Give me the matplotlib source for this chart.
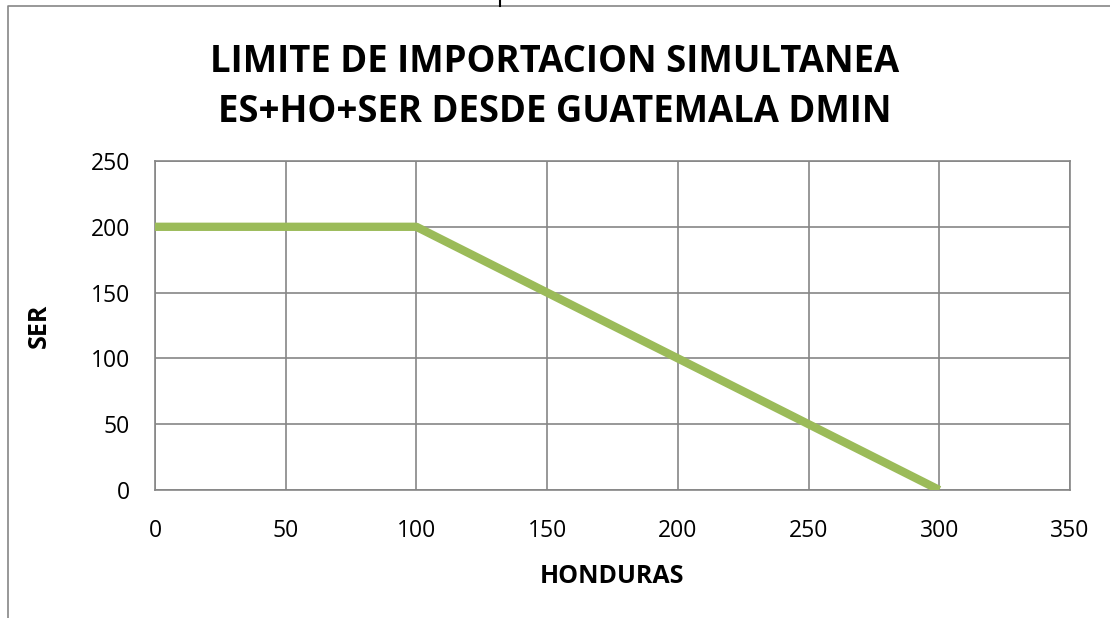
import matplotlib
matplotlib.use('Agg')
import matplotlib.pyplot as plt
from matplotlib.lines import Line2D

honduras = [0, 100, 300]
ser = [200, 200, 0]
x_ticks = [0, 50, 100, 150, 200, 250, 300, 350]
y_ticks = [0, 50, 100, 150, 200, 250]

plt.rcParams['font.family'] = ['Open Sans', 'DejaVu Sans']

W, H = 1110, 618
fig = plt.figure(figsize=(W / 100, H / 100), dpi=100)
ax = fig.add_axes([155 / W, 1 - 490 / H, (1070 - 155) / W, (490 - 161) / H])

ax.plot(honduras, ser, color='#9BBB59', linewidth=6, solid_capstyle='butt', zorder=3)

ax.set_xlim(0, 350)
ax.set_ylim(0, 250)
ax.set_xticks(x_ticks)
ax.set_yticks(y_ticks)
ax.grid(True, color='#868686', linewidth=1.2)
ax.tick_params(length=0, labelsize=16.5, colors='black')
ax.tick_params(axis='y', pad=18)
ax.tick_params(axis='x', pad=21)
for s in ax.spines.values():
    s.set_color('#868686')
    s.set_linewidth(1.2)

ax.set_xlabel('HONDURAS', fontsize=18, fontweight='bold', labelpad=15)
ax.set_ylabel('SER', fontsize=18, fontweight='bold', labelpad=28)

fig.text(0.5, 1 - 87 / H, 'LIMITE DE IMPORTACION SIMULTANEA\nES+HO+SER DESDE GUATEMALA DMIN',
         ha='center', va='center', fontsize=26.3, fontweight='bold', linespacing=1.42)

# chart area border (cropped)
fig.add_artist(Line2D([8 / W, 8 / W, 1], [0, 1 - 6 / H, 1 - 6 / H],
                      color='#868686', linewidth=1.2, transform=fig.transFigure))
fig.add_artist(Line2D([500 / W, 500 / W], [1 - 6 / H, 1], color='black',
                      linewidth=1.5, transform=fig.transFigure))

fig.savefig('out.png', dpi=100)
print("Saved: out.png")
